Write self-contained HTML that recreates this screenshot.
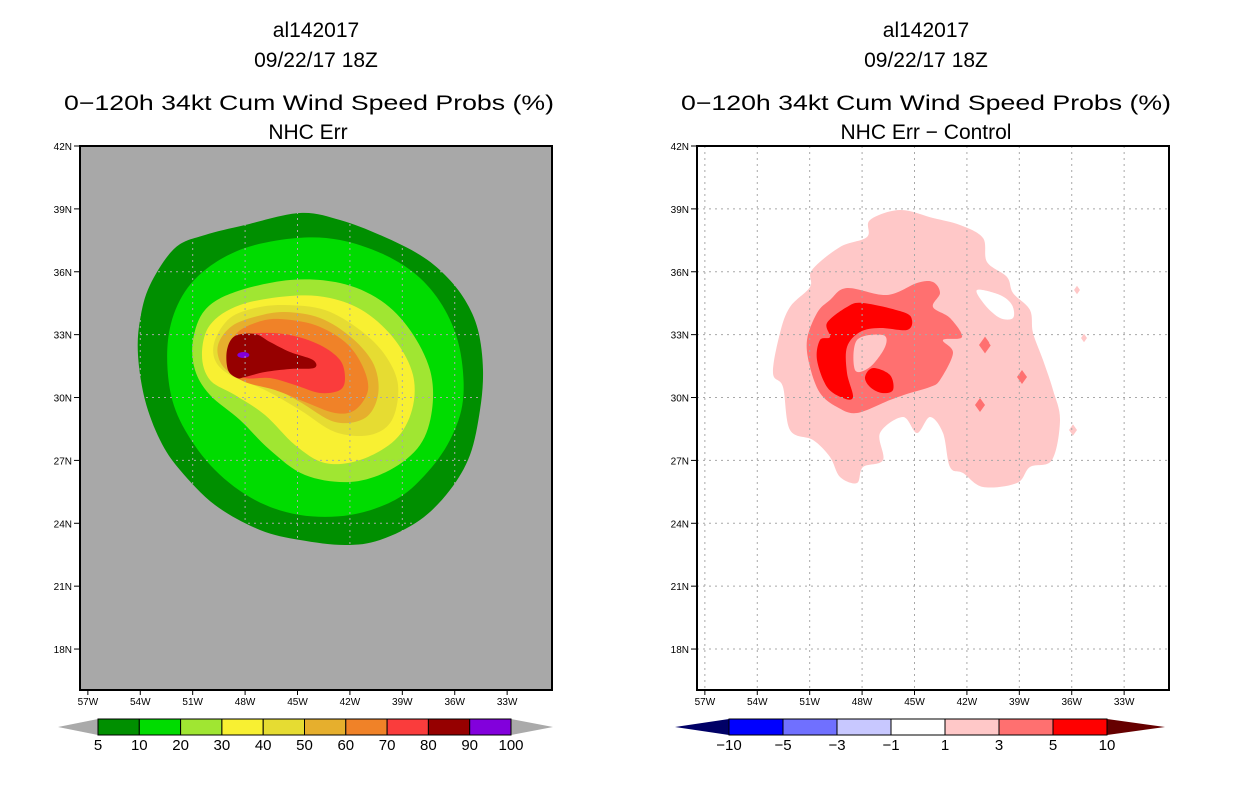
<!DOCTYPE html>
<html><head><meta charset="utf-8"><style>
html,body{margin:0;padding:0;background:#fff;}
svg{display:block;font-family:"Liberation Sans",sans-serif;}
</style></head><body>
<svg id="root" width="1236" height="800" viewBox="0 0 1236 800" xmlns="http://www.w3.org/2000/svg">
<g font-size="21" text-anchor="middle" fill="#000">
<text x="316" y="37">al142017</text>
<text x="316" y="67">09/22/17 18Z</text>
<text x="309" y="110" textLength="490" lengthAdjust="spacingAndGlyphs">0−120h 34kt Cum Wind Speed Probs (%)</text>
<text x="308" y="139">NHC Err</text>
</g>
<g font-size="21" text-anchor="middle" fill="#000">
<text x="926" y="37">al142017</text>
<text x="926" y="67">09/22/17 18Z</text>
<text x="926" y="110" textLength="490" lengthAdjust="spacingAndGlyphs">0−120h 34kt Cum Wind Speed Probs (%)</text>
<text x="926" y="139">NHC Err − Control</text>
</g>
<g id="leftMap"></g>
<g id="rightMap"></g>
<g id="leftBar"></g>
<g id="rightBar"></g>
</svg>
<script>
const latTicks=[42,39,36,33,30,27,24,21,18];
const lonTicks=[57,54,51,48,45,42,39,36,33];
const leftLevels=["5","10","20","30","40","50","60","70","80","90","100"];
const leftColors=["#008f00","#00dc00","#a0e632","#f8f032","#e6dc32","#e6af2d","#f08228","#fa3c3c","#960000","#8200dc"];
const rightLevels=["-10","-5","-3","-1","1","3","5","10"];
const rightColors=["#0000ff","#7070ff","#c8c8ff","#ffffff","#ffc8c8","#ff7070","#ff0000"];
const leftTrace=[
 [[175,248],[150,285],[140,320],[138,355],[145,400],[160,440],[180,470],[215,505],[260,530],[300,540],[345,545],[380,540],[420,520],[450,490],[470,455],[480,410],[483,370],[478,330],[465,300],[445,275],[420,255],[380,235],[340,220],[300,213],[245,225],[205,235]],
 [[297,238],[340,240],[385,255],[420,278],[445,310],[460,350],[463,400],[450,440],[425,475],[395,500],[350,515],[300,515],[255,500],[215,470],[185,430],[170,390],[168,340],[180,300],[205,270],[245,248]],
 [[290,280],[340,283],[380,300],[410,330],[430,370],[432,410],[420,445],[390,470],[350,482],[305,475],[270,450],[240,420],[210,395],[195,370],[193,340],[205,310],[235,292]],
 [[290,296],[330,298],[365,312],[395,340],[413,375],[412,410],[395,440],[360,460],[325,463],[295,445],[265,415],[235,395],[210,380],[202,355],[210,325],[240,305]],
 [[285,305],[325,310],[360,330],[385,355],[398,385],[392,420],[370,435],[335,432],[300,410],[265,390],[230,375],[215,360],[215,340],[230,318],[255,308]],
 [[285,312],[320,318],[352,338],[374,365],[378,395],[365,418],[335,422],[300,402],[270,386],[240,378],[222,365],[218,345],[232,326],[258,316]],
 [[280,319],[315,325],[345,342],[362,365],[368,390],[355,410],[335,413],[305,402],[275,390],[245,382],[230,370],[227,350],[238,332],[258,322]],
 [[260,333],[290,335],[320,345],[340,360],[345,378],[340,390],[320,393],[295,385],[270,378],[245,378],[232,368],[230,350],[240,337]],
 [[235,336],[255,334],[270,342],[290,352],[313,360],[314,368],[290,369],[265,372],[245,377],[237,378],[228,370],[227,350]]
];
const purpleCenter=[48.1,32.03];
const rightTrace={
 pink:[[870,220],[900,210],[933,218],[960,225],[983,238],[987,262],[1007,277],[1013,293],[1030,310],[1033,333],[1043,360],[1053,390],[1060,420],[1052,460],[1030,467],[1017,483],[983,487],[963,473],[950,467],[943,433],[930,417],[917,433],[903,417],[880,433],[883,460],[863,467],[857,483],[840,477],[830,457],[813,440],[790,430],[783,387],[773,373],[780,333],[790,307],[810,287],[812,270],[840,247],[867,237]],
 hole:[[977,290],[1000,295],[1012,305],[1013,318],[1000,318],[985,305]],
 med:[[847,288],[887,295],[917,283],[933,282],[940,293],[933,307],[950,318],[962,337],[943,340],[953,353],[940,380],[930,387],[910,393],[890,400],[857,413],[837,407],[820,393],[810,367],[807,340],[817,313],[830,300]],
 medHole:[[857,340],[883,335],[885,347],[870,367],[855,370]],
 red:[[827,323],[847,307],[863,303],[903,312],[912,320],[907,330],[880,328],[860,332],[847,347],[847,373],[853,397],[843,398],[827,387],[817,360],[820,340],[830,337]],
 redBlob:[[865,377],[873,368],[890,375],[893,390],[882,393],[870,387]]
};
const rightSpots=[[985,345,6],[1022,377,5],[980,405,5],[992,343,3],[860,272,4],[1077,290,3],[1084,338,3],[1073,430,4]];

const NS="http://www.w3.org/2000/svg";
function mk(tag,attrs,parent){const e=document.createElementNS(NS,tag);for(const k in attrs)e.setAttribute(k,attrs[k]);parent.appendChild(e);return e;}
function makeAxes(x0,y0){
  const xs=lon=>x0+(57.45-lon)*17.47;
  const ys=lat=>y0+(42-lat)*20.96;
  const inv=p=>[57.45-(p[0]-x0)/17.47,42-(p[1]-y0)/20.96];
  return {xs,ys,inv};
}
function smooth(pts){
  const n=pts.length;let d=`M${pts[0][0]},${pts[0][1]}`;
  for(let i=0;i<n;i++){const p0=pts[(i-1+n)%n],p1=pts[i],p2=pts[(i+1)%n],p3=pts[(i+2)%n];
    const c1=[p1[0]+(p2[0]-p0[0])/6,p1[1]+(p2[1]-p0[1])/6],c2=[p2[0]-(p3[0]-p1[0])/6,p2[1]-(p3[1]-p1[1])/6];
    d+=`C${c1[0].toFixed(1)},${c1[1].toFixed(1)} ${c2[0].toFixed(1)},${c2[1].toFixed(1)} ${p2[0].toFixed(1)},${p2[1].toFixed(1)}`;}
  return d+"Z";
}
function project(geo,ax){return geo.map(p=>[ax.xs(p[0]),ax.ys(p[1])]);}
function drawFrame(g,x0,x1,y0,y1,ax){
  const gl=mk('g',{},g);
  
  
  lonTicks.forEach(l=>{const x=ax.xs(l);mk('line',{x1:x,x2:x,y1:y0,y2:y1,stroke:'#a8a8a8','stroke-dasharray':'2,4','stroke-width':1},gl);});
  latTicks.forEach(l=>{const y=ax.ys(l);mk('line',{x1:x0,x2:x1,y1:y,y2:y,stroke:'#a8a8a8','stroke-dasharray':'2,4','stroke-width':1},gl);});
  const fr=mk('rect',{x:x0,y:y0,width:x1-x0,height:y1-y0,fill:'none',stroke:'#000','stroke-width':2},g);
  
  
  latTicks.forEach(l=>{const y=ax.ys(l);
    mk('line',{x1:x0-6,x2:x0,y1:y,y2:y,stroke:'#000'},g);
    const t=mk('text',{x:x0-8,y:y+4,'font-size':10,'text-anchor':'end'},g);t.textContent=l+'N';
    
    });
  lonTicks.forEach(l=>{const x=ax.xs(l);
    mk('line',{x1:x,x2:x,y1:y1,y2:y1+5,stroke:'#000'},g);
    const t=mk('text',{x:x,y:y1+15,'font-size':10,'text-anchor':'middle'},g);t.textContent=l+'W';
    
    });
}
(function(){
  const g=document.getElementById('leftMap');const x0=80,x1=552,y0=146,y1=690;const ax=makeAxes(x0,y0);
  const bg=mk('rect',{x:x0,y:y0,width:x1-x0,height:y1-y0,fill:'#a8a8a8'},g);
  
  
  const shapes=leftTrace.map(s=>s.map(ax.inv));
  shapes.forEach((s,i)=>{const p=mk('path',{d:smooth(project(s,ax)),fill:leftColors[i]},g);
    
    });
  const pc=mk('ellipse',{cx:ax.xs(purpleCenter[0]),cy:ax.ys(purpleCenter[1]),rx:6,ry:3,fill:leftColors[9]},g);
  
  
  drawFrame(g,x0,x1,y0,y1,ax);
})();
(function(){
  const g=document.getElementById('rightMap');const x0=697,x1=1169,y0=146,y1=690;const ax=makeAxes(x0,y0);
  const bg=mk('rect',{x:x0,y:y0,width:x1-x0,height:y1-y0,fill:'#fff'},g);
  
  
  const add=(pts,fill,name)=>{const p=mk('path',{d:smooth(pts),fill},g);
    
    };
  add(rightTrace.pink,rightColors[4],'diff-1-to-3');
  add(rightTrace.hole,'#fff','diff-hole');
  add(rightTrace.med,rightColors[5],'diff-3-to-5');
  add(rightTrace.medHole,rightColors[4],'diff-inner-1-to-3');
  add(rightTrace.red,rightColors[6],'diff-5-to-10');
  add(rightTrace.redBlob,rightColors[6],'diff-5-to-10-blob');
  rightSpots.forEach((s,i)=>{const cx=s[0],cy=s[1],r=s[2];
    const p=mk('polygon',{points:`${cx},${cy-r*1.4} ${cx+r},${cy} ${cx},${cy+r*1.4} ${cx-r},${cy}`,fill:i<3?rightColors[5]:rightColors[4]},g);
    
    });
  drawFrame(g,x0,x1,y0,y1,ax);
})();
function colorbar(id,levels,colors,x0,x1,y0,y1,tl,tr,lc,rc){
  const g=document.getElementById(id);const n=colors.length;const w=(x1-x0)/n;
  const lt=mk('polygon',{points:`${x0},${y0} ${tl},${(y0+y1)/2} ${x0},${y1}`,fill:lc},g);
  
  
  const rt=mk('polygon',{points:`${x1},${y0} ${tr},${(y0+y1)/2} ${x1},${y1}`,fill:rc},g);
  
  
  colors.forEach((c,i)=>{const r=mk('rect',{x:x0+i*w,y:y0,width:w,height:y1-y0,fill:c,stroke:'#000','stroke-width':1},g);
    
    });
  levels.forEach((l,i)=>{const t=mk('text',{x:x0+i*w,y:y1+15,'font-size':15,'text-anchor':'middle'},g);t.textContent=l.replace('-','−');
    
    });
}
colorbar('leftBar',leftLevels,leftColors,98,511,719,735,58,553,'#aaaaaa','#aaaaaa');
colorbar('rightBar',rightLevels,rightColors,729,1107,719,735,675,1165,'#000066','#660000');
</script>
</body></html>
